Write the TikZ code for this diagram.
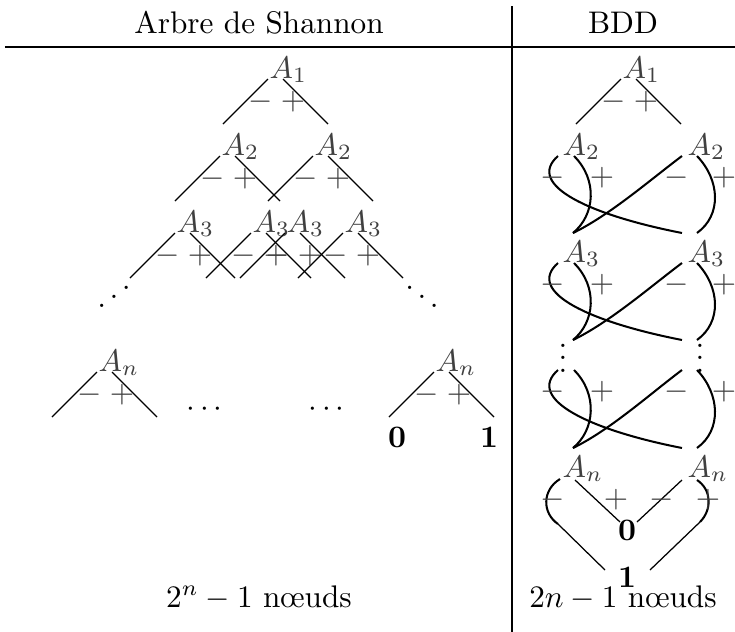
\documentclass[tikz,border=0pt]{standalone}
\usepackage{amsmath,amssymb}
\usepackage{graphicx}
\usepackage{tikz}
\usetikzlibrary{calc}

\begin{document}
\begin{tikzpicture}[
  x=0.32pt, y=-0.32pt,
  every node/.style={inner sep=0pt},
  rule/.style={line width=0.8pt},
  branch/.style={line width=0.4pt},
  arc/.style={line width=0.65pt},
  var/.style={anchor=base west,text=black!75},
  sign/.style={text=black!75},
  title/.style={anchor=base}
]
\useasboundingbox (0,0) rectangle (735,632);

% Table
\node[title] (hshannon) at (259,33) {Arbre de Shannon};
\node[title] (hbdd) at (623,33) {BDD};
\draw[rule] (5,47) -- (735,47);
\draw[rule] (512,6) -- (512,632);
\node[title] (nshannon) at (259,607) {$2^n-1$ n\oe uds};
\node[title] (nbdd) at (623,607) {$2n-1$ n\oe uds};

% Shannon tree (and top of the BDD)
\foreach \nm/\fx/\fy/\i in {s1/269/78/1, s2a/221/155/2, s2b/314/155/2,
    s3a/176/232/3, s3b/252/232/3, s3c/286/232/3, s3d/344/232/3,
    sna/98/371/n, snb/435/371/n, b1/622/78/1}{
  \node[var] (\nm) at (\fx,\fy) {$A_{\i}$};
  \draw[branch] ([shift={(-1,1)}]\nm.base west) -- ++(-45,45);
  \draw[branch] ([shift={(14,1)}]\nm.base west) -- ++(45,45);
  \node[sign] at ([shift={(-8,24)}]\nm.base west) {$-$};
  \node[sign] at ([shift={(24,24)}]\nm.base west) {$+$};
}
\node[title] (sdl) at (114,311) {\reflectbox{$\ddots$}};
\node[title] (sdr) at (422,311) {$\ddots$};
\node[title] (scl) at (207,416) {$\cdots$};
\node[title] (scr) at (329,416) {$\cdots$};
\node (szero) at (397,437) {$\mathbf{0}$};
\node (sone) at (489,437) {$\mathbf{1}$};

% BDD
\coordinate (l2) at (562,155); \coordinate (r2) at (687,155);
\coordinate (l3) at (562,262); \coordinate (r3) at (687,262);
\coordinate (lv) at (562,369); \coordinate (rv) at (687,369);
\coordinate (ln) at (562,477); \coordinate (rn) at (687,477);
\node[var] (b2l) at (l2) {$A_2$};
\node[var] (b2r) at (r2) {$A_2$};
\node[var] (b3l) at (l3) {$A_3$};
\node[var] (b3r) at (r3) {$A_3$};
\node[title] (bvl) at (563,372) {$\vdots$};
\node[title] (bvr) at (700,372) {$\vdots$};
\node[var] (bnl) at (ln) {$A_n$};
\node[var] (bnr) at (rn) {$A_n$};
\node (bzero) at (627,530) {$\mathbf{0}$};
\node (bone) at (627,577) {$\mathbf{1}$};

\foreach \u/\d in {2/3, 3/v, v/n}{
  \draw[arc] ([shift={(-4,1)}]l\u) .. controls +(-33,29) and +(-92,-18) .. ([shift={(-5,-29)}]r\d);
  \draw[arc] ([shift={(12,1)}]l\u) .. controls +(24,24) and +(22,-18) .. ([shift={(11,-29)}]l\d);
  \draw[arc] ([shift={(-5,1)}]r\u) .. controls +(-32,24) and +(37,-18) .. ([shift={(11,-29)}]l\d);
  \draw[arc] ([shift={(10,1)}]r\u) .. controls +(23,24) and +(25,-18) .. ([shift={(10,-29)}]r\d);
  \node[sign] at ([shift={(-9,23)}]l\u) {$-$};
  \node[sign] at ([shift={(40,23)}]l\u) {$+$};
  \node[sign] at ([shift={(-10,23)}]r\u) {$-$};
  \node[sign] at ([shift={(37,23)}]r\u) {$+$};
}

% last level
\draw[arc] ([shift={(-2,2)}]ln) .. controls +(-18,11) and +(-16,-11) .. ([shift={(-4,47)}]ln);
\draw[branch] ([shift={(-4,47)}]ln) -- ([shift={(-22,-7)}]bone.center);
\draw[branch] ([shift={(13,3)}]ln) -- ([shift={(-7,-8)}]bzero.center);
\draw[branch] ([shift={(-5,3)}]rn) -- ([shift={(10,-8)}]bzero.center);
\draw[arc] ([shift={(10,3)}]rn) .. controls +(15,10) and +(12,-12) .. ([shift={(13,45)}]rn);
\draw[branch] ([shift={(13,45)}]rn) -- ([shift={(23,-7)}]bone.center);
\node[sign] at ([shift={(-9,23)}]ln) {$-$};
\node[sign] at ([shift={(54,23)}]ln) {$+$};
\node[sign] at ([shift={(-25,23)}]rn) {$-$};
\node[sign] at ([shift={(21,23)}]rn) {$+$};
\end{tikzpicture}
\end{document}
